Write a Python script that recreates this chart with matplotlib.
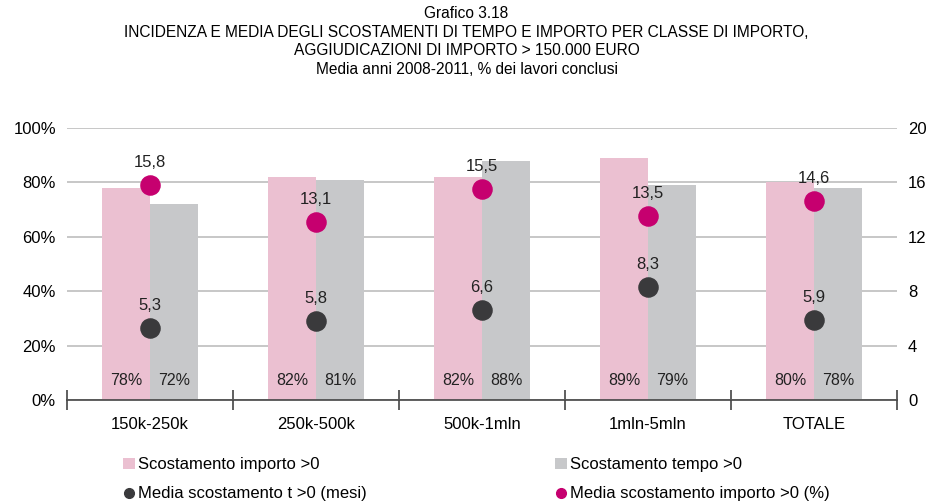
import matplotlib.pyplot as plt
from matplotlib.lines import Line2D
import numpy as np

plt.rcParams['font.family'] = ['Liberation Sans', 'DejaVu Sans']

categories = ['150k-250k', '250k-500k', '500k-1mln', '1mln-5mln', 'TOTALE']
importo_pct = [78, 82, 82, 89, 80]
tempo_pct = [72, 81, 88, 79, 78]
media_tempo = [5.3, 5.8, 6.6, 8.3, 5.9]
media_importo = [15.8, 13.1, 15.5, 13.5, 14.6]

pink = '#ebc0d1'
grey = '#c7c8ca'
magenta = '#c6006f'
dark = '#3a3a3c'

fig = plt.figure(figsize=(9.33, 5.01), dpi=100)
ax = fig.add_axes([0.0718, 0.2016, 0.8896, 0.543])
ax2 = ax.twinx()

x = np.arange(len(categories))
w = 0.29
b1 = ax.bar(x - w / 2, importo_pct, w, color=pink, zorder=2)
b2 = ax.bar(x + w / 2, tempo_pct, w, color=grey, zorder=2)

for xi, a, b in zip(x, importo_pct, tempo_pct):
    ax.text(xi - w / 2, 7, f'{a}%', ha='center', va='center', fontsize=11.5, color='#222222', zorder=5)
    ax.text(xi + w / 2, 7, f'{b}%', ha='center', va='center', fontsize=11.5, color='#222222', zorder=5)

ax.set_xlim(-0.5, len(categories) - 0.5)
ax.set_ylim(0, 100)
ax.set_yticks(np.arange(0, 101, 20))
ax.set_yticklabels([f'{v}%' for v in range(0, 101, 20)])
ax.yaxis.grid(True, color='#bdbdbd', linewidth=1.2, zorder=0)
ax.set_axisbelow(True)
ax.tick_params(axis='y', length=0, labelsize=12, pad=8)

ax.set_xticks(x)
ax.set_xticklabels(categories, fontsize=12)
ax.tick_params(axis='x', length=0, pad=12)
ax.set_xticks(np.arange(-0.5, len(categories)), minor=True)
ax.tick_params(axis='x', which='minor', direction='inout', length=14, width=1.2, color='#444444')

for s in ['top', 'left', 'right']:
    ax.spines[s].set_visible(False)
ax.spines['bottom'].set_color('#444444')
ax.spines['bottom'].set_linewidth(1.2)
ax.spines['bottom'].set_zorder(4)

ax2.set_ylim(0, 20)
ax2.set_yticks(np.arange(0, 21, 4))
ax2.tick_params(axis='y', length=0, labelsize=12, pad=8)
for s in ['top', 'left', 'right', 'bottom']:
    ax2.spines[s].set_visible(False)

ax2.scatter(x, media_tempo, s=190, color=dark, zorder=3)
ax2.scatter(x, media_importo, s=190, color=magenta, zorder=3)
for xi, v in zip(x, media_tempo):
    ax2.text(xi, v + 1.1, f'{v:.1f}'.replace('.', ','), ha='center', va='bottom', fontsize=12, color='#222222')
for xi, v in zip(x, media_importo):
    ax2.text(xi, v + 1.1, f'{v:.1f}'.replace('.', ','), ha='center', va='bottom', fontsize=12, color='#222222')

fig.text(0.5, 0.988, 'Grafico 3.18\nINCIDENZA E MEDIA DEGLI SCOSTAMENTI DI TEMPO E IMPORTO PER CLASSE DI IMPORTO,\n'
         'AGGIUDICAZIONI DI IMPORTO > 150.000 EURO\nMedia anni 2008-2011, % dei lavori conclusi',
         ha='center', va='top', fontsize=11.2, linespacing=1.3)

dot_t = Line2D([], [], marker='o', linestyle='none', color=dark, markersize=7)
dot_i = Line2D([], [], marker='o', linestyle='none', color=magenta, markersize=7)
handles = [b1, dot_t, b2, dot_i]
labels = ['Scostamento importo >0', 'Media scostamento t >0 (mesi)',
          'Scostamento tempo >0', 'Media scostamento importo >0 (%)']
fig.legend(handles, labels, ncol=2, loc='upper left', bbox_to_anchor=(0.123, 0.104),
           frameon=False, fontsize=12, handlelength=0.7, handleheight=0.7, handletextpad=0.2,
           columnspacing=11.3, labelspacing=0.85, borderpad=0)

fig.savefig('out.png', dpi=100)
